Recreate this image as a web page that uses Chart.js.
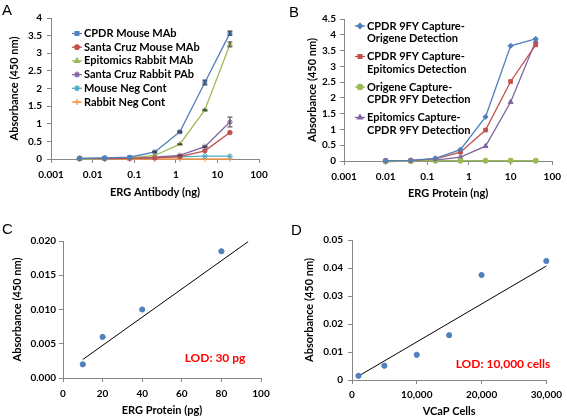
<!DOCTYPE html>
<html>
<head>
<meta charset="utf-8">
<script src="https://cdn.jsdelivr.net/npm/chart.js@4.4.0/dist/chart.umd.min.js"></script>
<style>
  html, body { margin: 0; padding: 0; background: #fff; }
  #fig { position: relative; width: 567px; height: 416px; overflow: hidden; }
  #fig canvas { position: absolute; }
  .tag { position: absolute; font: 15px "Liberation Sans", Arial, sans-serif; line-height: 1; color: #000; }
  .lod { position: absolute; font: bold 12px Lato, sans-serif; color: #ff0000; white-space: nowrap;
         transform: translate(-50%, -50%); line-height: 1; }
</style>
</head>
<body>
<div id="fig">
  <canvas id="cA" width="285" height="210" style="left:0;top:0"></canvas>
  <canvas id="cB" width="282" height="210" style="left:285px;top:0"></canvas>
  <canvas id="cC" width="285" height="206" style="left:0;top:210px"></canvas>
  <canvas id="cD" width="282" height="206" style="left:285px;top:210px"></canvas>
  <div class="tag" style="left:2px;top:2px">A</div>
  <div class="tag" style="left:289px;top:4px">B</div>
  <div class="tag" style="left:2px;top:221px">C</div>
  <div class="tag" style="left:291px;top:222px">D</div>
  <div class="lod" style="left:215px;top:358px">LOD: 30 pg</div>
  <div class="lod" style="left:503px;top:364px">LOD: 10,000 cells</div>
</div>
<script>
/* ── data ─────────────────────────────────────────────────────────── */

// A — antibody titration
const A_X = [0.00488, 0.0195, 0.078, 0.3125, 1.25, 5, 20];
const A_CPDR_MOUSE  = [0.01, 0.03, 0.05, 0.20, 0.77, 2.17, 3.57];
const A_SC_MOUSE    = [0.02, 0.02, 0.02, 0.03, 0.07, 0.23, 0.75];
const A_EPI_RABBIT  = [0.00, 0.01, 0.03, 0.10, 0.42, 1.39, 3.25];
const A_SC_RABBIT   = [0.01, 0.01, 0.02, 0.05, 0.10, 0.35, 1.05];
const A_MOUSE_NEG   = [0.02, 0.02, 0.03, 0.04, 0.06, 0.08, 0.08];
const A_RABBIT_NEG  = [0.00, 0.00, 0.00, 0.00, 0.00, 0.00, 0.00];
const A_ERR_CPDR_MOUSE = [0, 0, 0, 0.01, 0.02, 0.07, 0.06];
const A_ERR_EPI_RABBIT = [0, 0, 0, 0, 0.01, 0.02, 0.07];
const A_ERR_SC_RABBIT  = [0, 0, 0, 0, 0.01, 0.02, 0.14];
const A_Y_TICKS = [0, 0.5, 1, 1.5, 2, 2.5, 3, 3.5, 4];

// B — capture / detection pairs
const B_X = [0.01, 0.04, 0.156, 0.625, 2.5, 10, 40];
const B_CPDR_ORIGENE = [0.01, 0.02, 0.08, 0.36, 1.40, 3.65, 3.87];
const B_CPDR_EPI     = [0.01, 0.02, 0.07, 0.28, 0.98, 2.52, 3.68];
const B_ORIGENE_CPDR = [0.00, 0.00, 0.01, 0.01, 0.01, 0.01, 0.01];
const B_EPI_CPDR     = [-0.02, 0.00, 0.03, 0.12, 0.47, 1.87, 3.80];
const B_Y_TICKS = [0, 0.5, 1, 1.5, 2, 2.5, 3, 3.5, 4, 4.5];

const LOG_TICKS = [0.001, 0.01, 0.1, 1, 10, 100];

// C — ERG protein standard
const C_X = [10, 20, 40, 80];
const C_Y = [0.002, 0.006, 0.010, 0.0185];
const C_TREND_X = [10, 93.5];
const C_TREND_Y = [0.0027, 0.0199];

// D — VCaP cells
const D_X = [1000, 5000, 10000, 15000, 20000, 30000];
const D_Y = [0.0015, 0.0051, 0.009, 0.016, 0.0375, 0.0425];
const D_TREND_X = [1000, 30000];
const D_TREND_Y = [0.0014, 0.0407];

/* ── styling helpers ──────────────────────────────────────────────── */

const FONT = 'Lato, "Open Sans", sans-serif';
const AXIS_COL = '#868686';
const C_BLUE = '#4f81bd', C_RED = '#c0504d', C_GREEN = '#9bbb59',
      C_PURPLE = '#8064a2', C_CYAN = '#4bacc6', C_ORANGE = '#f79646';

const pts = (xs, ys) => xs.map((x, i) => ({ x, y: ys[i] }));

function series(label, xs, ys, color, style, radius, extra) {
  return Object.assign({
    label: Array.isArray(label) ? label.join(' ') : label,
    legendLines: [].concat(label),
    data: pts(xs, ys),
    showLine: true,
    borderColor: color,
    borderWidth: 1.3,
    pointStyle: style,
    pointRadius: radius,
    pointBackgroundColor: color,
    pointBorderColor: color,
    pointBorderWidth: 1,
    clip: false,
  }, extra || {});
}

function axis(o) {
  const a = {
    type: o.type || 'linear',
    min: o.min, max: o.max,
    border: { display: true, color: AXIS_COL, width: 1 },
    grid: { drawOnChartArea: false, drawTicks: true, tickLength: 4, color: AXIS_COL },
    ticks: { color: '#000', font: { family: FONT, size: 10, weight: 'bold' }, padding: o.tickPad,
             autoSkip: false, maxRotation: 0, callback: o.fmt },
    // x titles are drawn by the xTitle plugin below, centred on the plot area
    title: { display: !!o.titlePad, text: o.title, color: '#000',
             font: { family: FONT, size: 11, weight: 'bold' }, padding: o.titlePad },
    afterBuildTicks: s => { s.ticks = o.ticks.map(v => ({ value: v })); },
  };
  if (o.width) a.afterFit = s => { s.width = o.width; };
  if (o.height) a.afterFit = s => { s.height = o.height; };
  return a;
}

function range(a, b, step) {
  const out = [];
  for (let v = a; v <= b + step / 2; v += step) out.push(+v.toFixed(6));
  return out;
}

const xTitle = {
  id: 'xTitle',
  afterDraw(chart, args, opts) {
    if (!opts || !opts.text) return;
    const { ctx, chartArea } = chart;
    ctx.save();
    ctx.font = `bold 11px ${FONT}`;
    ctx.fillStyle = '#000';
    ctx.textAlign = 'center';
    ctx.textBaseline = 'middle';
    ctx.fillText(opts.text, (chartArea.left + chartArea.right) / 2, opts.y);
    ctx.restore();
  },
};

// draws a line+marker legend inside the plot, Excel style
const insideLegend = {
  id: 'insideLegend',
  afterDraw(chart, args, opts) {
    if (!opts || opts.x === undefined) return;
    const { ctx } = chart;
    ctx.save();
    ctx.font = `bold ${opts.size}px ${FONT}`;
    ctx.textBaseline = 'middle';
    let y = opts.y;
    chart.data.datasets.forEach(ds => {
      if (!ds.legendLines) return;
      ctx.strokeStyle = ds.borderColor;
      ctx.lineWidth = ds.borderWidth;
      ctx.beginPath();
      ctx.moveTo(opts.x, y);
      ctx.lineTo(opts.x + opts.len, y);
      ctx.stroke();
      ctx.fillStyle = ds.pointBackgroundColor;
      ctx.strokeStyle = ds.pointBorderColor;
      Chart.helpers.drawPoint(ctx, { pointStyle: ds.pointStyle, radius: ds.pointRadius, borderWidth: 1, rotation: 0 },
        opts.x + opts.len / 2, y);
      ctx.fillStyle = '#000';
      ds.legendLines.forEach((t, i) => ctx.fillText(t, opts.x + opts.len + 2, y + i * opts.lineH));
      y += opts.gap;
    });
    ctx.restore();
  },
};

const errorBars = {
  id: 'errorBars',
  afterDatasetsDraw(chart) {
    const { ctx, scales: { x, y } } = chart;
    ctx.save();
    ctx.strokeStyle = '#404040';
    ctx.lineWidth = 1;
    chart.data.datasets.forEach(ds => {
      if (!ds.yErr) return;
      ds.data.forEach((p, i) => {
        const e = ds.yErr[i];
        if (!e) return;
        const px = x.getPixelForValue(p.x);
        const top = y.getPixelForValue(p.y + e), bot = y.getPixelForValue(p.y - e);
        ctx.beginPath();
        ctx.moveTo(px, top); ctx.lineTo(px, bot);
        ctx.moveTo(px - 2.5, top); ctx.lineTo(px + 2.5, top);
        ctx.moveTo(px - 2.5, bot); ctx.lineTo(px + 2.5, bot);
        ctx.stroke();
      });
    });
    ctx.restore();
  },
};

const baseOpts = (padding, scales, xt, legend) => ({
  responsive: false,
  animation: false,
  events: [],
  layout: { padding },
  plugins: { legend: { display: false }, tooltip: { enabled: false },
             xTitle: xt, insideLegend: legend || {} },
  scales,
});

/* ── A ────────────────────────────────────────────────────────────── */
new Chart(document.getElementById('cA'), {
  type: 'scatter',
  data: {
    datasets: [
      series('CPDR Mouse MAb', A_X, A_CPDR_MOUSE, C_BLUE, 'rect', 2.6, { yErr: A_ERR_CPDR_MOUSE }),
      series('Santa Cruz Mouse MAb', A_X, A_SC_MOUSE, C_RED, 'circle', 2.2),
      series('Epitomics Rabbit MAb', A_X, A_EPI_RABBIT, C_GREEN, 'triangle', 2.8, { yErr: A_ERR_EPI_RABBIT }),
      series('Santa Cruz Rabbit PAb', A_X, A_SC_RABBIT, C_PURPLE, 'star', 3, { yErr: A_ERR_SC_RABBIT }),
      series('Mouse Neg Cont', A_X, A_MOUSE_NEG, C_CYAN, 'star', 3),
      series('Rabbit Neg Cont', A_X, A_RABBIT_NEG, C_ORANGE, 'cross', 3),
    ],
  },
  options: baseOpts({ top: 18, right: 26, left: 0, bottom: 0 }, {
    x: axis({ type: 'logarithmic', min: 0.001, max: 100, ticks: LOG_TICKS, fmt: v => String(v),
              tickPad: 6, height: 51 }),
    y: axis({ min: 0, max: 4, ticks: A_Y_TICKS, fmt: v => String(v),
              title: 'Absorbance (450 nm)', titlePad: { top: 8, bottom: 0 }, tickPad: 5, width: 51 }),
  }, { text: 'ERG Antibody (ng)', y: 192 },
     { x: 72, y: 33.5, len: 10, size: 11, lineH: 0, gap: 13.7 }),
  plugins: [errorBars, insideLegend, xTitle],
});

/* ── B ────────────────────────────────────────────────────────────── */
new Chart(document.getElementById('cB'), {
  type: 'scatter',
  data: {
    datasets: [
      series(['CPDR 9FY Capture-', 'Origene Detection'], B_X, B_CPDR_ORIGENE, C_BLUE, 'rectRot', 2.6),
      series(['CPDR 9FY Capture-', 'Epitomics Detection'], B_X, B_CPDR_EPI, C_RED, 'rect', 2.6),
      series(['Origene Capture-', 'CPDR 9FY Detection'], B_X, B_ORIGENE_CPDR, C_GREEN, 'circle', 2.6),
      series(['Epitomics Capture-', 'CPDR 9FY Detection'], B_X, B_EPI_CPDR, C_PURPLE, 'triangle', 2.8),
    ],
  },
  options: baseOpts({ top: 19, right: 14, left: 0, bottom: 0 }, {
    x: axis({ type: 'logarithmic', min: 0.001, max: 100, ticks: LOG_TICKS, fmt: v => String(v),
              tickPad: 6, height: 49 }),
    y: axis({ min: 0, max: 4.5, ticks: B_Y_TICKS, fmt: v => String(v),
              title: 'Absorbance (450 nm)', titlePad: { top: 21, bottom: 0 }, tickPad: 4, width: 59 }),
  }, { text: 'ERG Protein (ng)', y: 193 },
     { x: 70, y: 26, len: 10, size: 11, lineH: 12.5, gap: 30.5 }),
  plugins: [insideLegend, xTitle],
});

/* ── C ────────────────────────────────────────────────────────────── */
new Chart(document.getElementById('cC'), {
  type: 'scatter',
  data: {
    datasets: [
      { label: 'Absorbance', data: pts(C_X, C_Y), pointStyle: 'circle', pointRadius: 2.6,
        pointBackgroundColor: C_BLUE, pointBorderColor: C_BLUE, clip: false },
      { label: 'Linear', data: pts(C_TREND_X, C_TREND_Y), showLine: true, borderColor: '#000',
        borderWidth: 1, pointRadius: 0, clip: false },
    ],
  },
  options: baseOpts({ top: 31, right: 24, left: 0, bottom: 0 }, {
    x: axis({ min: 0, max: 100, ticks: range(0, 100, 20), fmt: v => String(v), tickPad: 6, height: 38 }),
    y: axis({ min: 0, max: 0.02, ticks: range(0, 0.02, 0.005), fmt: v => v.toFixed(3),
              title: 'Absorbance (450 nm)', titlePad: { top: 11, bottom: 0 }, tickPad: 3, width: 63 }),
  }, { text: 'ERG Protein (pg)', y: 200 }),
  plugins: [xTitle],
});

/* ── D ────────────────────────────────────────────────────────────── */
new Chart(document.getElementById('cD'), {
  type: 'scatter',
  data: {
    datasets: [
      { label: 'Absorbance', data: pts(D_X, D_Y), pointStyle: 'circle', pointRadius: 2.6,
        pointBackgroundColor: C_BLUE, pointBorderColor: C_BLUE, clip: false },
      { label: 'Linear', data: pts(D_TREND_X, D_TREND_Y), showLine: true, borderColor: '#000',
        borderWidth: 1, pointRadius: 0, clip: false },
    ],
  },
  options: baseOpts({ top: 30, right: 20, left: 0, bottom: 0 }, {
    x: axis({ min: 0, max: 30000, ticks: range(0, 30000, 10000), fmt: v => v.toLocaleString('en-US'),
              tickPad: 5, height: 36 }),
    y: axis({ min: 0, max: 0.05, ticks: range(0, 0.05, 0.01), fmt: v => String(v),
              title: 'Absorbance (450 nm)', titlePad: { top: 18, bottom: 0 }, tickPad: 5, width: 67 }),
  }, { text: 'VCaP Cells', y: 201 }),
  plugins: [xTitle],
});
</script>
</body>
</html>
